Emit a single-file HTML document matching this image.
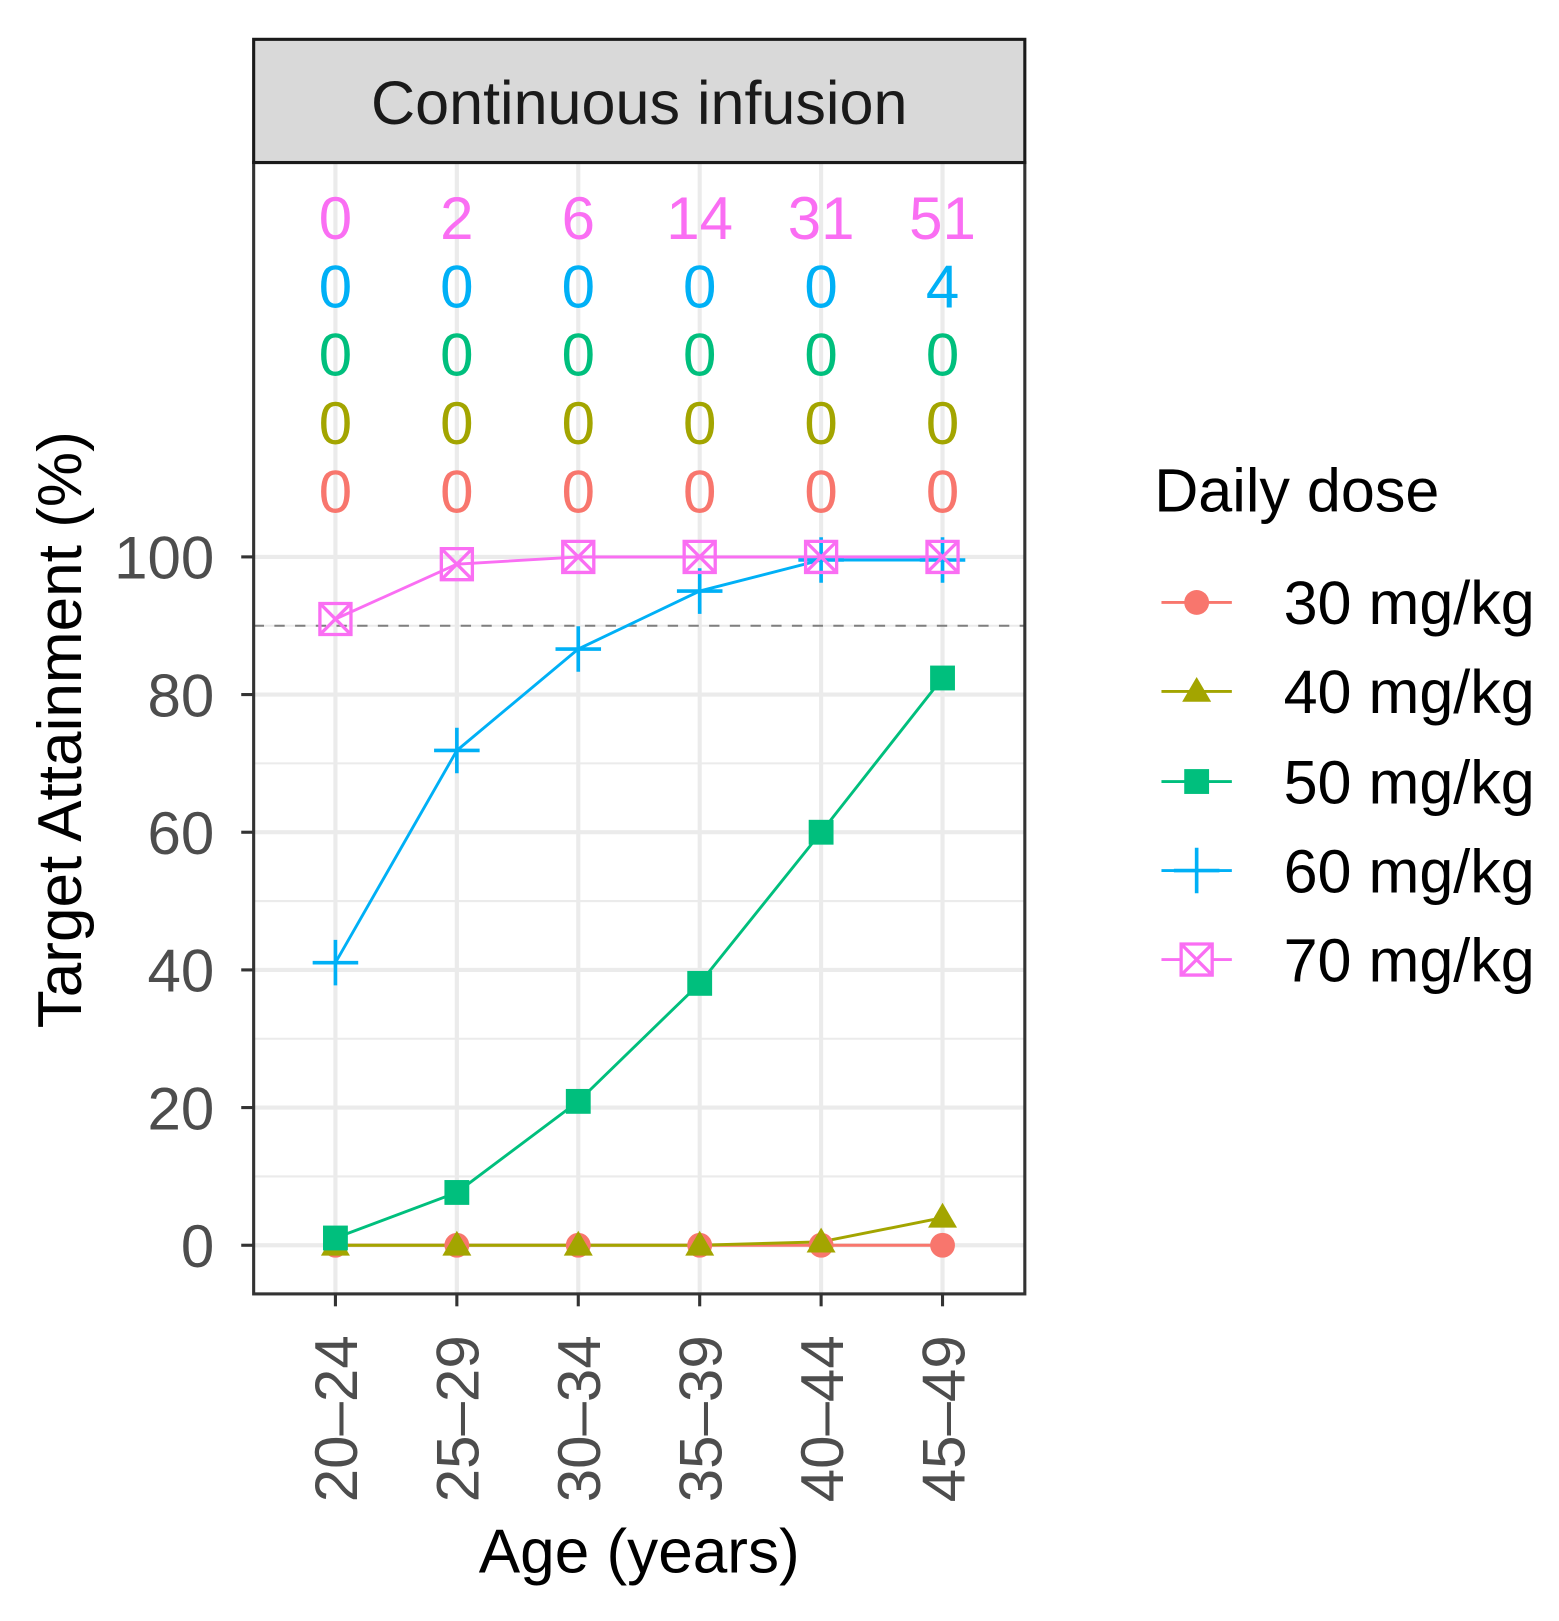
<!DOCTYPE html>
<html><head><meta charset="utf-8"><style>html,body{margin:0;padding:0;background:#fff}svg{display:block}text{font-family:"Liberation Sans",Arial,sans-serif}</style></head>
<body>
<svg width="1559" height="1621" viewBox="0 0 1506 1566" xmlns="http://www.w3.org/2000/svg">
<rect width="1506" height="1566" fill="#fff"/>
<g stroke="#ebebeb" stroke-width="2">
<line x1="245" x2="990" y1="1136.5" y2="1136.5"/><line x1="245" x2="990" y1="1003.5" y2="1003.5"/><line x1="245" x2="990" y1="870.5" y2="870.5"/><line x1="245" x2="990" y1="737.5" y2="737.5"/><line x1="245" x2="990" y1="604.5" y2="604.5"/>
</g>
<g stroke="#ebebeb" stroke-width="4">
<line x1="245" x2="990" y1="1203" y2="1203"/><line x1="245" x2="990" y1="1070" y2="1070"/><line x1="245" x2="990" y1="937" y2="937"/><line x1="245" x2="990" y1="804" y2="804"/><line x1="245" x2="990" y1="671" y2="671"/><line x1="245" x2="990" y1="538" y2="538"/>
<line x1="324" x2="324" y1="157" y2="1250"/><line x1="441.3" x2="441.3" y1="157" y2="1250"/><line x1="558.6" x2="558.6" y1="157" y2="1250"/><line x1="675.9" x2="675.9" y1="157" y2="1250"/><line x1="793.2" x2="793.2" y1="157" y2="1250"/><line x1="910.5" x2="910.5" y1="157" y2="1250"/>
</g>
<line x1="245" x2="990" y1="604.5" y2="604.5" stroke="#7f7f7f" stroke-width="2" stroke-dasharray="10,10"/>
<g font-size="58" text-anchor="middle">
<g fill="#FA6EF3"><text x="324" y="231">0</text><text x="441.3" y="231">2</text><text x="558.6" y="231">6</text><text x="675.9" y="231">14</text><text x="793.2" y="231">31</text><text x="910.5" y="231">51</text></g>
<g fill="#00B0F6"><text x="324" y="297">0</text><text x="441.3" y="297">0</text><text x="558.6" y="297">0</text><text x="675.9" y="297">0</text><text x="793.2" y="297">0</text><text x="910.5" y="297">4</text></g>
<g fill="#00BF7D"><text x="324" y="363">0</text><text x="441.3" y="363">0</text><text x="558.6" y="363">0</text><text x="675.9" y="363">0</text><text x="793.2" y="363">0</text><text x="910.5" y="363">0</text></g>
<g fill="#A3A500"><text x="324" y="429">0</text><text x="441.3" y="429">0</text><text x="558.6" y="429">0</text><text x="675.9" y="429">0</text><text x="793.2" y="429">0</text><text x="910.5" y="429">0</text></g>
<g fill="#F8766D"><text x="324" y="495">0</text><text x="441.3" y="495">0</text><text x="558.6" y="495">0</text><text x="675.9" y="495">0</text><text x="793.2" y="495">0</text><text x="910.5" y="495">0</text></g>
</g>
<g fill="none" stroke-width="2.8">
<polyline stroke="#F8766D" points="324,1203 441.3,1203 558.6,1203 675.9,1203 793.2,1203 910.5,1203"/>
<polyline stroke="#A3A500" points="324,1203 441.3,1203 558.6,1203 675.9,1203 793.2,1199.7 910.5,1176.4"/>
<polyline stroke="#00BF7D" points="324,1196 441.3,1152 558.6,1064 675.9,950 793.2,804 910.5,655"/>
<polyline stroke="#00B0F6" points="324,930 441.3,725 558.6,627 675.9,571 793.2,541 910.5,541"/>
<polyline stroke="#FA6EF3" points="324,598 441.3,545 558.6,538 675.9,538 793.2,538 910.5,538"/>
</g>
<g fill="#F8766D"><circle cx="324" cy="1203" r="12"/><circle cx="441.3" cy="1203" r="12"/><circle cx="558.6" cy="1203" r="12"/><circle cx="675.9" cy="1203" r="12"/><circle cx="793.2" cy="1203" r="12"/><circle cx="910.5" cy="1203" r="12"/></g>
<g fill="#A3A500">
<polygon points="324,1189 338,1213 310,1213"/><polygon points="441.3,1189 455.3,1213 427.3,1213"/><polygon points="558.6,1189 572.6,1213 544.6,1213"/><polygon points="675.9,1189 689.9,1213 661.9,1213"/><polygon points="793.2,1186 807.2,1210 779.2,1210"/><polygon points="910.5,1162 924.5,1186 896.5,1186"/>
</g>
<g fill="#00BF7D">
<rect x="312" y="1184" width="24" height="24"/><rect x="429.3" y="1140" width="24" height="24"/><rect x="546.6" y="1052" width="24" height="24"/><rect x="663.9" y="938" width="24" height="24"/><rect x="781.2" y="792" width="24" height="24"/><rect x="898.5" y="643" width="24" height="24"/>
</g>
<g stroke="#00B0F6" stroke-width="3.5">
<path d="M302,930h44M324,908v44"/><path d="M419.3,725h44M441.3,703v44"/><path d="M536.6,627h44M558.6,605v44"/><path d="M653.9,571h44M675.9,549v44"/><path d="M771.2,541h44M793.2,519v44"/><path d="M888.5,541h44M910.5,519v44"/>
</g>
<g stroke="#FA6EF3" stroke-width="3.2" fill="none">
<path d="M309,583h30v30h-30zM309,583l30,30M339,583l-30,30"/>
<path d="M426.3,530h30v30h-30zM426.3,530l30,30M456.3,530l-30,30"/>
<path d="M543.6,523h30v30h-30zM543.6,523l30,30M573.6,523l-30,30"/>
<path d="M660.9,523h30v30h-30zM660.9,523l30,30M690.9,523l-30,30"/>
<path d="M778.2,523h30v30h-30zM778.2,523l30,30M808.2,523l-30,30"/>
<path d="M895.5,523h30v30h-30zM895.5,523l30,30M925.5,523l-30,30"/>
</g>
<rect x="245" y="157" width="745" height="1093" fill="none" stroke="#333" stroke-width="3"/>
<rect x="245" y="38" width="745" height="119" fill="#d9d9d9" stroke="#1a1a1a" stroke-width="3"/>
<text x="617.5" y="120" font-size="59" text-anchor="middle" fill="#1a1a1a">Continuous infusion</text>
<g stroke="#333" stroke-width="3"><line x1="233" x2="245" y1="1203" y2="1203"/><line x1="233" x2="245" y1="1070" y2="1070"/><line x1="233" x2="245" y1="937" y2="937"/><line x1="233" x2="245" y1="804" y2="804"/><line x1="233" x2="245" y1="671" y2="671"/><line x1="233" x2="245" y1="538" y2="538"/>
<line x1="324" x2="324" y1="1250" y2="1262"/><line x1="441.3" x2="441.3" y1="1250" y2="1262"/><line x1="558.6" x2="558.6" y1="1250" y2="1262"/><line x1="675.9" x2="675.9" y1="1250" y2="1262"/><line x1="793.2" x2="793.2" y1="1250" y2="1262"/><line x1="910.5" x2="910.5" y1="1250" y2="1262"/></g>
<g font-size="58" fill="#4d4d4d" text-anchor="end">
<text x="207" y="1224">0</text><text x="207" y="1091">20</text><text x="207" y="958">40</text><text x="207" y="825">60</text><text x="207" y="692">80</text><text x="207" y="559">100</text>
</g>
<g font-size="58" fill="#4d4d4d" text-anchor="end">
<text transform="translate(345,1290) rotate(-90)">20–24</text><text transform="translate(462.3,1290) rotate(-90)">25–29</text><text transform="translate(579.6,1290) rotate(-90)">30–34</text><text transform="translate(696.9,1290) rotate(-90)">35–39</text><text transform="translate(814.2,1290) rotate(-90)">40–44</text><text transform="translate(931.5,1290) rotate(-90)">45–49</text>
</g>
<text x="617.5" y="1519" font-size="60" text-anchor="middle" fill="#000">Age (years)</text>
<text transform="translate(78,705) rotate(-90)" font-size="60" text-anchor="middle" fill="#000">Target Attainment (%)</text>
<text x="1115" y="494" font-size="59" fill="#000">Daily dose</text>
<g stroke-width="2.8">
<line x1="1122" x2="1190" y1="582" y2="582" stroke="#F8766D"/><circle cx="1156" cy="582" r="12" fill="#F8766D"/>
<line x1="1122" x2="1190" y1="668" y2="668" stroke="#A3A500"/><polygon points="1156,654 1170,678 1142,678" fill="#A3A500"/>
<line x1="1122" x2="1190" y1="755" y2="755" stroke="#00BF7D"/><rect x="1144" y="743" width="24" height="24" fill="#00BF7D"/>
<line x1="1122" x2="1190" y1="841" y2="841" stroke="#00B0F6"/><path d="M1134,841h44M1156,819v44" stroke="#00B0F6" stroke-width="3.5"/>
<line x1="1122" x2="1190" y1="927" y2="927" stroke="#FA6EF3"/><path d="M1141,912h30v30h-30zM1141,912l30,30M1171,912l-30,30" stroke="#FA6EF3" stroke-width="3.2" fill="#fff"/>
</g>
<g font-size="59" fill="#000">
<text x="1240" y="603">30 mg/kg</text><text x="1240" y="689">40 mg/kg</text><text x="1240" y="776">50 mg/kg</text><text x="1240" y="862">60 mg/kg</text><text x="1240" y="948">70 mg/kg</text>
</g>
</svg>
</body></html>
